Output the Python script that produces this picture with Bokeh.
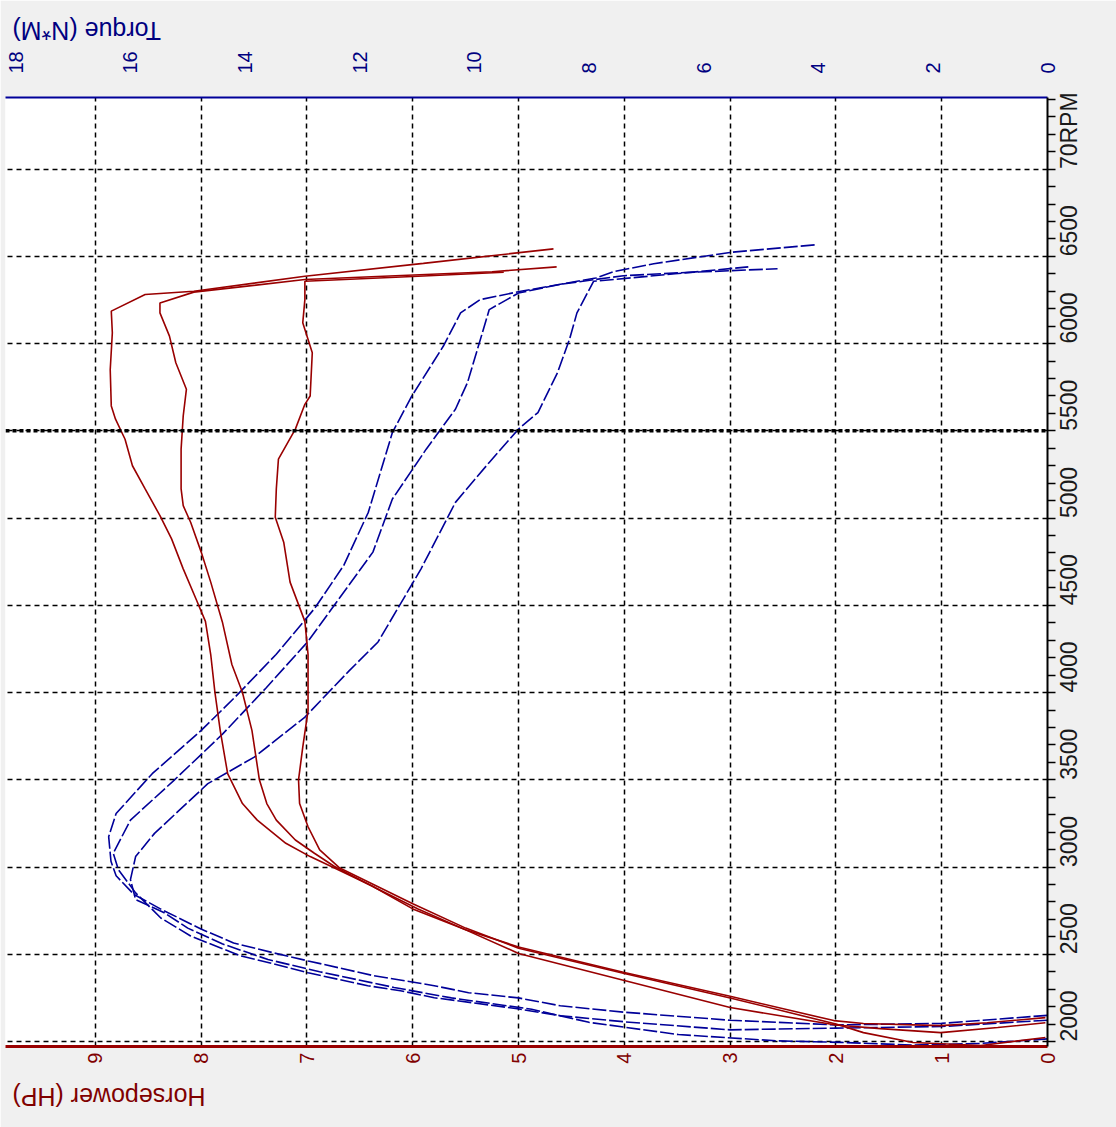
from math import pi
from bokeh.plotting import figure
from bokeh.models import Range1d, LinearAxis, FixedTicker, Span
from bokeh.embed import file_html
from bokeh.resources import INLINE

# ---------------- data ----------------
hp_ticks = [0, 1, 2, 3, 4, 5, 6, 7, 8, 9]
torque_ticks = [0, 2, 4, 6, 8, 10, 12, 14, 16, 18]
rpm_grid = [2000, 2500, 3000, 3500, 4000, 4500, 5000, 5500, 6000, 6500, 7000]
rpm_minor = list(range(2000, 7401, 100))
rpm_label_overrides = {7000: "70RPM"}
cursor_rpm = 5500

hp_title = "Horsepower (HP)\u00a0"
torque_title = "Torque (N*M)\u00a0"

# Horsepower runs (HP vs RPM), in path order
hp1_rpm = [2137, 2108, 2091, 2103, 2120, 2259, 2396, 2542, 2640, 2760, 2890, 2994, 3060, 3136, 3269,
           3364, 3535, 3782, 4000, 4218, 4408, 4538, 4709, 4881, 5014, 5167, 5300, 5452, 5567, 5643,
           5850, 6062, 6186, 6281, 6300, 6386, 6460, 6543]
hp1_val = [0.02, 0.57, 1.01, 1.74, 2.02, 3.0, 4.0, 5.0, 5.5, 6.0, 6.38, 6.74, 6.97, 7.2, 7.47,
           7.61, 7.75, 7.82, 7.87, 7.91, 7.96, 8.05, 8.17, 8.28, 8.39, 8.53, 8.65, 8.72, 8.81, 8.85,
           8.86, 8.84, 8.85, 8.53, 8.07, 7.02, 5.9, 4.67]

hp2_rpm = [2108, 2080, 2051, 2074, 2095, 2195, 2350, 2505, 2640, 2760, 2880, 3003, 3079, 3155, 3269,
           3364, 3500, 3782, 4000, 4161, 4405, 4633, 4805, 4976, 5071, 5167, 5395, 5586, 5738, 5890,
           6043, 6176, 6233, 6295, 6367, 6412, 6440]
hp2_val = [0.02, 0.47, 1.01, 1.58, 2.0, 3.0, 4.0, 5.0, 5.5, 5.95, 6.35, 6.74, 6.93, 7.11, 7.29,
           7.38, 7.45, 7.52, 7.61, 7.71, 7.80, 7.91, 8.0, 8.10, 8.17, 8.19, 8.19, 8.17, 8.14, 8.24,
           8.30, 8.39, 8.39, 8.07, 7.02, 5.25, 4.64]

hp3_rpm = [2023, 1977, 1994, 2051, 2100, 2250, 2390, 2535, 2650, 2790, 2994, 3098, 3231, 3364, 3500,
           3687, 3896, 4218, 4408, 4633, 4862, 5005, 5167, 5338, 5510, 5652, 5700, 5948, 6119, 6252,
           6357, 6385, 6409]
hp3_val = [0.02, 0.63, 1.27, 1.74, 2.0, 3.0, 4.0, 5.0, 5.5, 6.0, 6.69, 6.88, 6.99, 7.07, 7.08,
           7.04, 6.99, 6.99, 7.02, 7.16, 7.22, 7.30, 7.29, 7.27, 7.11, 7.02, 6.97, 6.95, 7.04, 7.02,
           7.02, 6.0, 5.14]

# Torque runs (N*M vs RPM), in path order
tq1_rpm = [2150, 2104, 2095, 2122, 2168, 2205, 2250, 2280, 2320, 2377, 2462, 2508, 2565, 2645, 2759,
           2843, 2950, 3033, 3174, 3307, 3535, 3782, 3972, 4218, 4481, 4728, 5033, 5490, 5700, 5986,
           6176, 6252, 6300, 6376, 6412, 6458, 6523, 6566]
tq1_val = [0.0, 1.85, 3.69, 5.54, 7.38, 8.5, 9.23, 10.1, 10.7, 11.75, 12.9, 13.5, 14.2, 14.77, 15.47,
           15.94, 16.25, 16.34, 16.38, 16.25, 15.62, 14.77, 14.18, 13.46, 12.79, 12.28, 11.85, 11.43, 11.09, 10.54,
           10.24, 9.90, 9.19, 7.88, 7.57, 6.87, 5.53, 4.05]

tq2_rpm = [2122, 2086, 2077, 2067, 2113, 2148, 2188, 2251, 2291, 2320, 2394, 2445, 2491, 2565, 2605,
           2708, 2852, 2985, 3079, 3269, 3497, 3763, 4028, 4290, 4805, 5109, 5395, 5624, 5776, 6062,
           6195, 6290, 6340, 6389, 6406, 6418, 6429]
tq2_val = [0.0, 1.85, 3.69, 5.54, 7.38, 8.5, 9.25, 10.7, 11.29, 11.86, 12.9, 13.5, 14.08, 14.65, 14.95,
           15.47, 15.91, 16.21, 16.30, 16.0, 15.24, 14.39, 13.63, 12.91, 11.77, 11.43, 10.84, 10.33, 10.12, 9.86,
           9.74, 9.23, 8.5, 7.40, 6.40, 5.53, 4.71]

tq3_rpm = [2015, 1989, 1980, 1995, 2004, 2040, 2110, 2185, 2250, 2310, 2400, 2470, 2560, 2650, 2738,
           2814, 2928, 3060, 3193, 3478, 3630, 3858, 4123, 4290, 4709, 5090, 5319, 5510, 5605, 5833,
           6024, 6176, 6357, 6400, 6440]
tq3_val = [0.0, 1.17, 2.34, 3.6, 4.73, 6.44, 8.0, 9.0, 10.4, 11.4, 12.7, 13.6, 14.4, 15.0, 15.41,
           15.91, 16.0, 15.91, 15.58, 14.65, 13.84, 12.96, 12.19, 11.68, 10.93, 10.33, 9.74, 9.23, 8.89, 8.55,
           8.34, 8.21, 7.92, 6.5, 5.22]

# ---------------- styling ----------------
HP_LINE = "#990000"
HP_TEXT = "#800000"
TQ_LINE = "#000099"
TQ_TEXT = "#000080"
FONT = "Liberation Sans"

Y0, Y1 = 1971.5, 7410.5
FRAME_H = 1127 - 93 - 81
RPM_FONT_PX = 23
# shift (in rpm units) that centres a rotated 4-digit label on its tick
lbl_shift = (4 * 0.556 * RPM_FONT_PX / 2) * (Y1 - Y0) / FRAME_H

p = figure(width=1116, height=1127,
           x_range=Range1d(9.85, 0), y_range=Range1d(Y0, Y1),
           output_backend="svg", toolbar_location=None,
           x_axis_location="below", y_axis_location="right",
           min_border_left=5, min_border_right=69, min_border_top=93, min_border_bottom=81)
p.background_fill_color = "white"
p.border_fill_color = "#f0f0f0"
p.outline_line_color = None

p.extra_x_ranges = {"torque": Range1d(18.18, 0)}
p.extra_y_ranges = {"rpmlbl": Range1d(Y0 + lbl_shift, Y1 + lbl_shift)}

# bottom HP axis
xa = p.xaxis[0]
xa.ticker = FixedTicker(ticks=hp_ticks)
xa.major_label_orientation = pi / 2
xa.major_label_text_color = HP_TEXT
xa.major_label_text_font = FONT
xa.major_label_text_font_size = "20px"
xa.major_label_standoff = 6
xa.axis_line_color = HP_LINE
xa.axis_line_width = 3
xa.major_tick_in = 0
xa.major_tick_out = 0
xa.minor_tick_in = 0
xa.minor_tick_out = 0

# top torque axis
ta = LinearAxis(x_range_name="torque", ticker=FixedTicker(ticks=torque_ticks))
ta.major_label_orientation = pi / 2
ta.major_label_text_color = TQ_TEXT
ta.major_label_text_font = FONT
ta.major_label_text_font_size = "20px"
ta.major_label_standoff = 24
ta.axis_line_color = TQ_LINE
ta.axis_line_width = 2
ta.major_tick_in = 0
ta.major_tick_out = 0
ta.minor_tick_in = 0
ta.minor_tick_out = 0
p.add_layout(ta, "above")

# right RPM axis: line + tick marks every 100 rpm (no labels on this one)
ra = p.yaxis[0]
ra.ticker = FixedTicker(ticks=[], minor_ticks=rpm_minor)
ra.axis_line_color = "black"
ra.axis_line_width = 2
ra.major_tick_in = 0
ra.major_tick_out = 8
ra.minor_tick_in = 0
ra.minor_tick_out = 8
ra.minor_tick_line_width = 1.5
ra.minor_tick_line_color = "black"

# right RPM axis: rotated labels centred on the ticks (lowest one kept inside the frame)
low_key = rpm_grid[0] + lbl_shift
lbl_ticks = [v + lbl_shift for v in rpm_grid[1:]] + [low_key]
lbl_overrides = {v + lbl_shift: str(v) for v in rpm_grid[1:]}
lbl_overrides[low_key] = str(rpm_grid[0])
for k, s in rpm_label_overrides.items():
    lbl_overrides[k + lbl_shift] = s
ra2 = LinearAxis(y_range_name="rpmlbl", ticker=FixedTicker(ticks=lbl_ticks))
ra2.major_label_overrides = lbl_overrides
ra2.major_label_orientation = pi / 2
ra2.major_label_text_color = "#1a1a1a"
ra2.major_label_text_font = FONT
ra2.major_label_text_font_size = f"{RPM_FONT_PX}px"
ra2.major_label_standoff = 14
ra2.axis_line_color = None
ra2.major_tick_in = 0
ra2.major_tick_out = 0
ra2.minor_tick_in = 0
ra2.minor_tick_out = 0
p.add_layout(ra2, "right")

# axis titles, upside down like the rest of the rotated chart
for ax, txt, col, sz, so, ang in ((xa, hp_title, HP_TEXT, "25px", 30, pi),
                                  (ta, torque_title, TQ_TEXT, "25px", 17, -pi)):
    ax.axis_label = txt
    ax.axis_label_orientation = ang
    ax.axis_label_text_color = col
    ax.axis_label_text_font = FONT
    ax.axis_label_text_font_size = sz
    ax.axis_label_text_font_style = "normal"
    ax.axis_label_standoff = so
    ax.axis_label_align = "end"

# grids
p.xgrid.ticker = FixedTicker(ticks=hp_ticks[1:])
p.ygrid.ticker = FixedTicker(ticks=rpm_grid)
for g in (p.xgrid[0], p.ygrid[0]):
    g.grid_line_color = "black"
    g.grid_line_width = 1.5
    g.grid_line_dash = "5 4"
    g.grid_line_alpha = 1.0

p.add_layout(Span(location=cursor_rpm, dimension="width", line_color="black",
                  line_width=3.5, line_dash="4 3"))

# torque curves (dashed blue)
for r, v in ((tq1_rpm, tq1_val), (tq2_rpm, tq2_val), (tq3_rpm, tq3_val)):
    p.line(v, r, x_range_name="torque", line_color=TQ_LINE, line_width=1.6, line_dash="14 3")

# horsepower curves (solid red)
for r, v in ((hp1_rpm, hp1_val), (hp2_rpm, hp2_val), (hp3_rpm, hp3_val)):
    p.line(v, r, line_color=HP_LINE, line_width=1.6)

open("out.html", "w").write(file_html(p, INLINE))
